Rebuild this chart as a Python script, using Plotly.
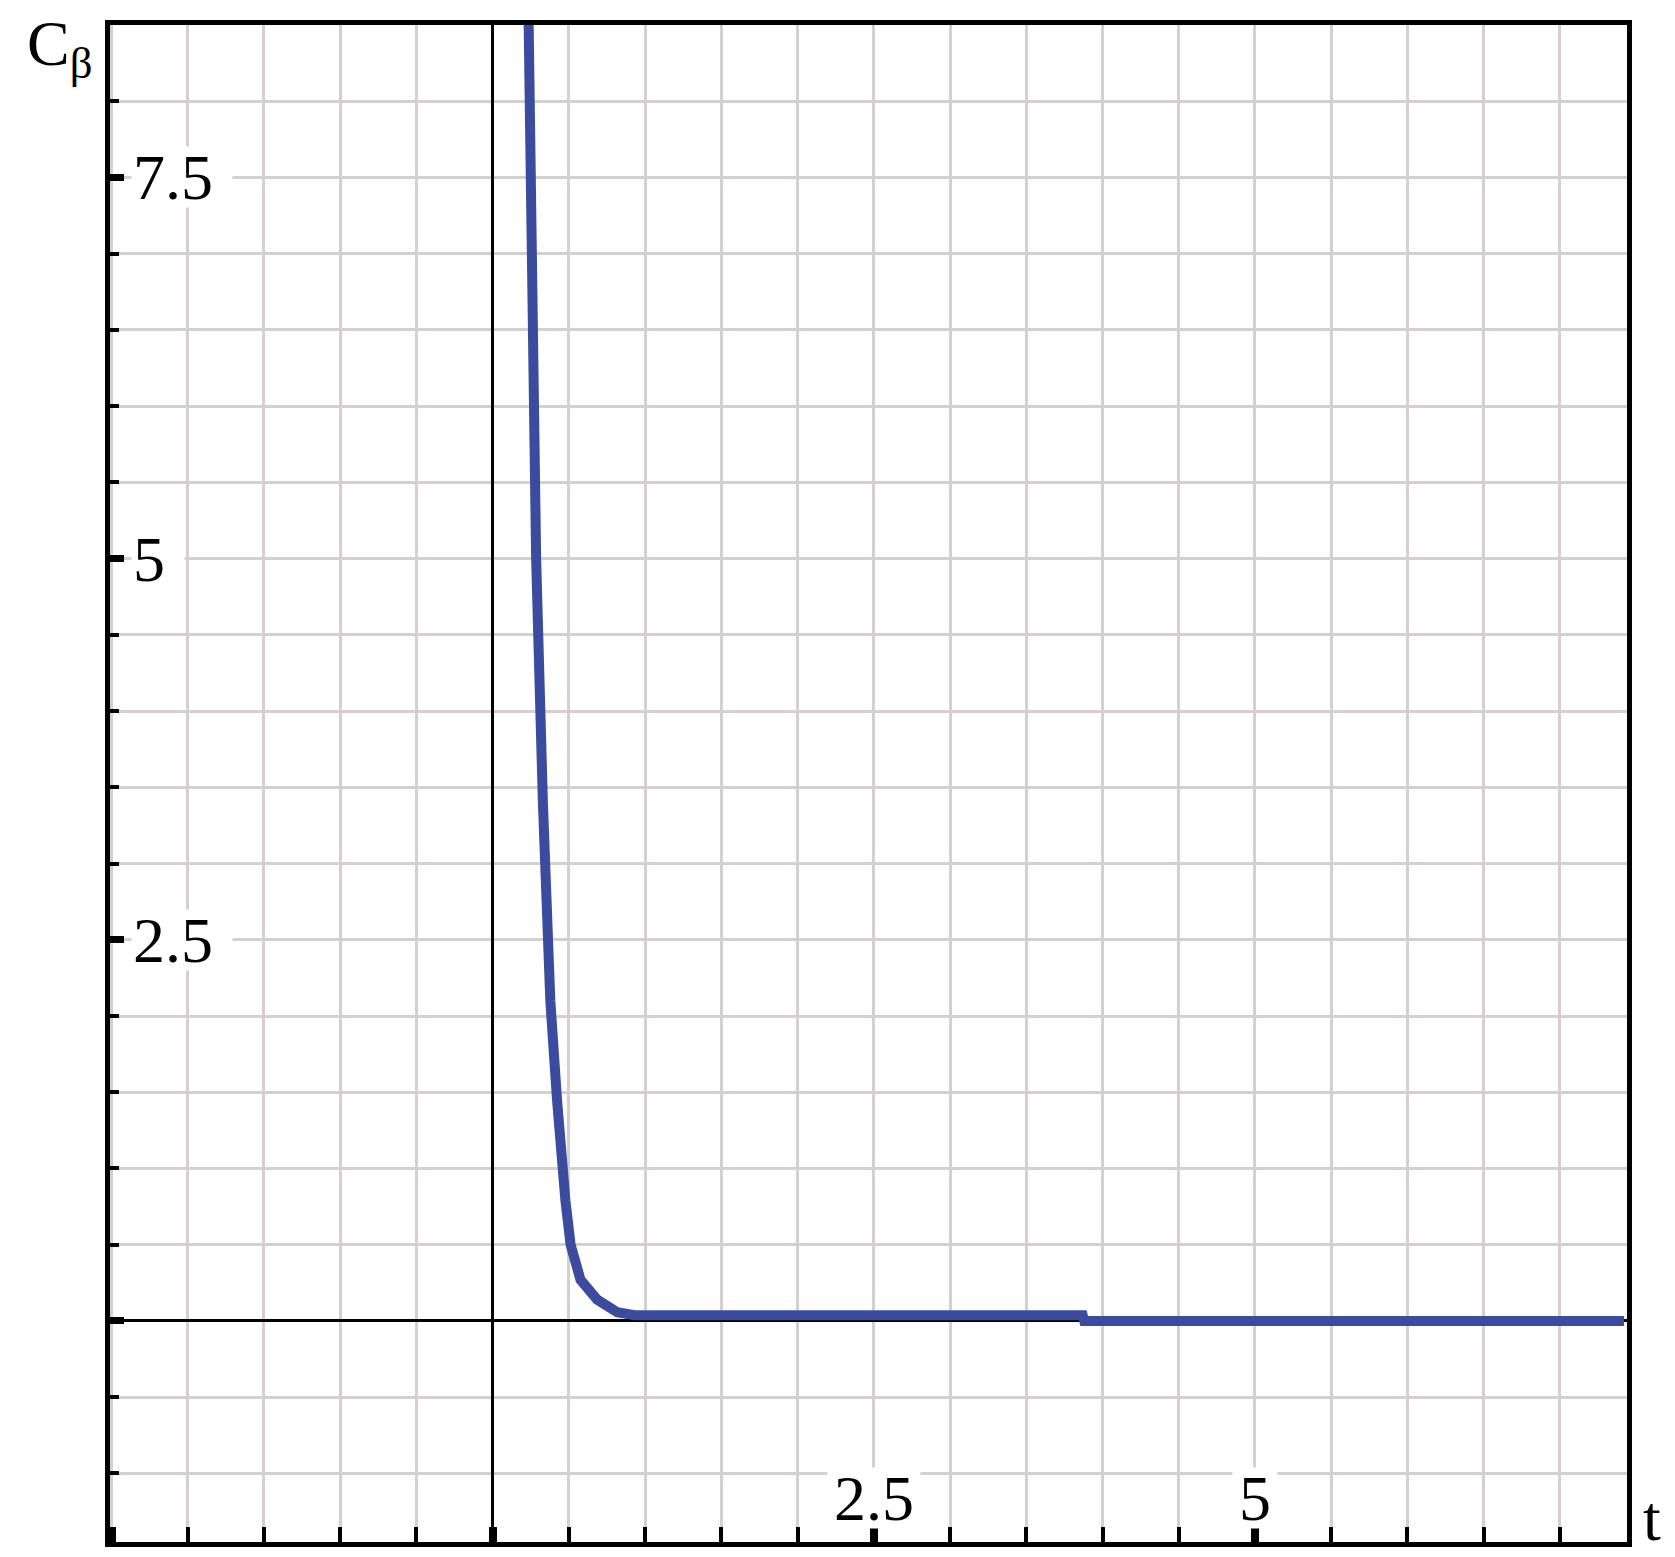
import plotly.graph_objects as go

# ---- data ----
t_values = [0.236, 0.247, 0.269, 0.285, 0.329, 0.378, 0.422, 0.449, 0.477, 0.511,
            0.576, 0.685, 0.817, 0.93, 3.87, 3.88, 7.42]
c_beta = [8.50, 7.50, 6.04, 5.00, 3.41, 2.10, 1.45, 0.99, 0.79, 0.50,
          0.27, 0.14, 0.057, 0.037, 0.037, 0.0, 0.0]

x_tick_values = [2.5, 5]
x_tick_labels = ["2.5", "5"]
y_tick_values = [2.5, 5, 7.5]
y_tick_labels = ["2.5", "5", "7.5"]

x_title = "t"
y_title = "C<sub>β</sub>"

# ---- styling ----
FONT = "Liberation Serif, Times New Roman, serif"
FS = 64
GRID = "#d5cfcf"
CURVE = "#3c4b9d"

fig = go.Figure()
fig.add_trace(go.Scatter(x=t_values, y=c_beta, mode="lines",
                         line=dict(color=CURVE, width=10), showlegend=False,
                         hoverinfo="skip"))

axis_common = dict(
    showline=True, linecolor="black", linewidth=5, mirror=True,
    showgrid=True, gridcolor=GRID, gridwidth=3,
    zeroline=True, zerolinecolor="black", zerolinewidth=3,
    tickmode="linear", tick0=0, dtick=2.5,
    ticks="inside", tickcolor="black",
    showticklabels=False,
    minor=dict(tickmode="linear", tick0=0, dtick=0.5, ticks="inside",
               tickcolor="black", showgrid=True, gridcolor=GRID, gridwidth=3),
)

fig.update_xaxes(range=[-2.51, 7.44], ticklen=15, tickwidth=8, **axis_common)
fig.update_xaxes(minor_ticklen=15, minor_tickwidth=4)
fig.update_yaxes(range=[-1.45, 8.50], ticklen=14, tickwidth=7, **axis_common)
fig.update_yaxes(minor_ticklen=9, minor_tickwidth=4)

def label_width(s):
    return sum(0.25 * FS if ch == "." else 0.5 * FS for ch in s) + 18

annotations = []
for v, s in zip(y_tick_values, y_tick_labels):
    annotations.append(dict(x=-2.37, y=v, xref="x", yref="y", text=s,
                            xanchor="left", yanchor="middle", align="left",
                            showarrow=False, bgcolor="white", borderpad=1,
                            width=label_width(s), height=58,
                            font=dict(family=FONT, size=FS, color="black")))
for v, s in zip(x_tick_values, x_tick_labels):
    annotations.append(dict(x=v, y=-1.16, xref="x", yref="y", text=s,
                            xanchor="center", yanchor="middle", align="center",
                            showarrow=False, bgcolor="white", borderpad=1,
                            width=label_width(s) - 8, height=58,
                            font=dict(family=FONT, size=FS, color="black")))

annotations.append(dict(x=-0.056, y=1.0125, xref="paper", yref="paper",
                        text=y_title, xanchor="left", yanchor="top",
                        showarrow=False,
                        font=dict(family=FONT, size=FS, color="black")))
annotations.append(dict(x=1.009, y=-0.0095, xref="paper", yref="paper",
                        text=x_title, xanchor="left", yanchor="bottom",
                        showarrow=False,
                        font=dict(family=FONT, size=FS, color="black")))

# the page body adds an 8px offset, so the figure is sized to fit the window
fig.update_layout(
    width=1667, height=1549,
    margin=dict(l=102, r=48, t=17, b=15, pad=0),
    paper_bgcolor="white", plot_bgcolor="white",
    annotations=annotations,
)

fig.write_html("out.html")
